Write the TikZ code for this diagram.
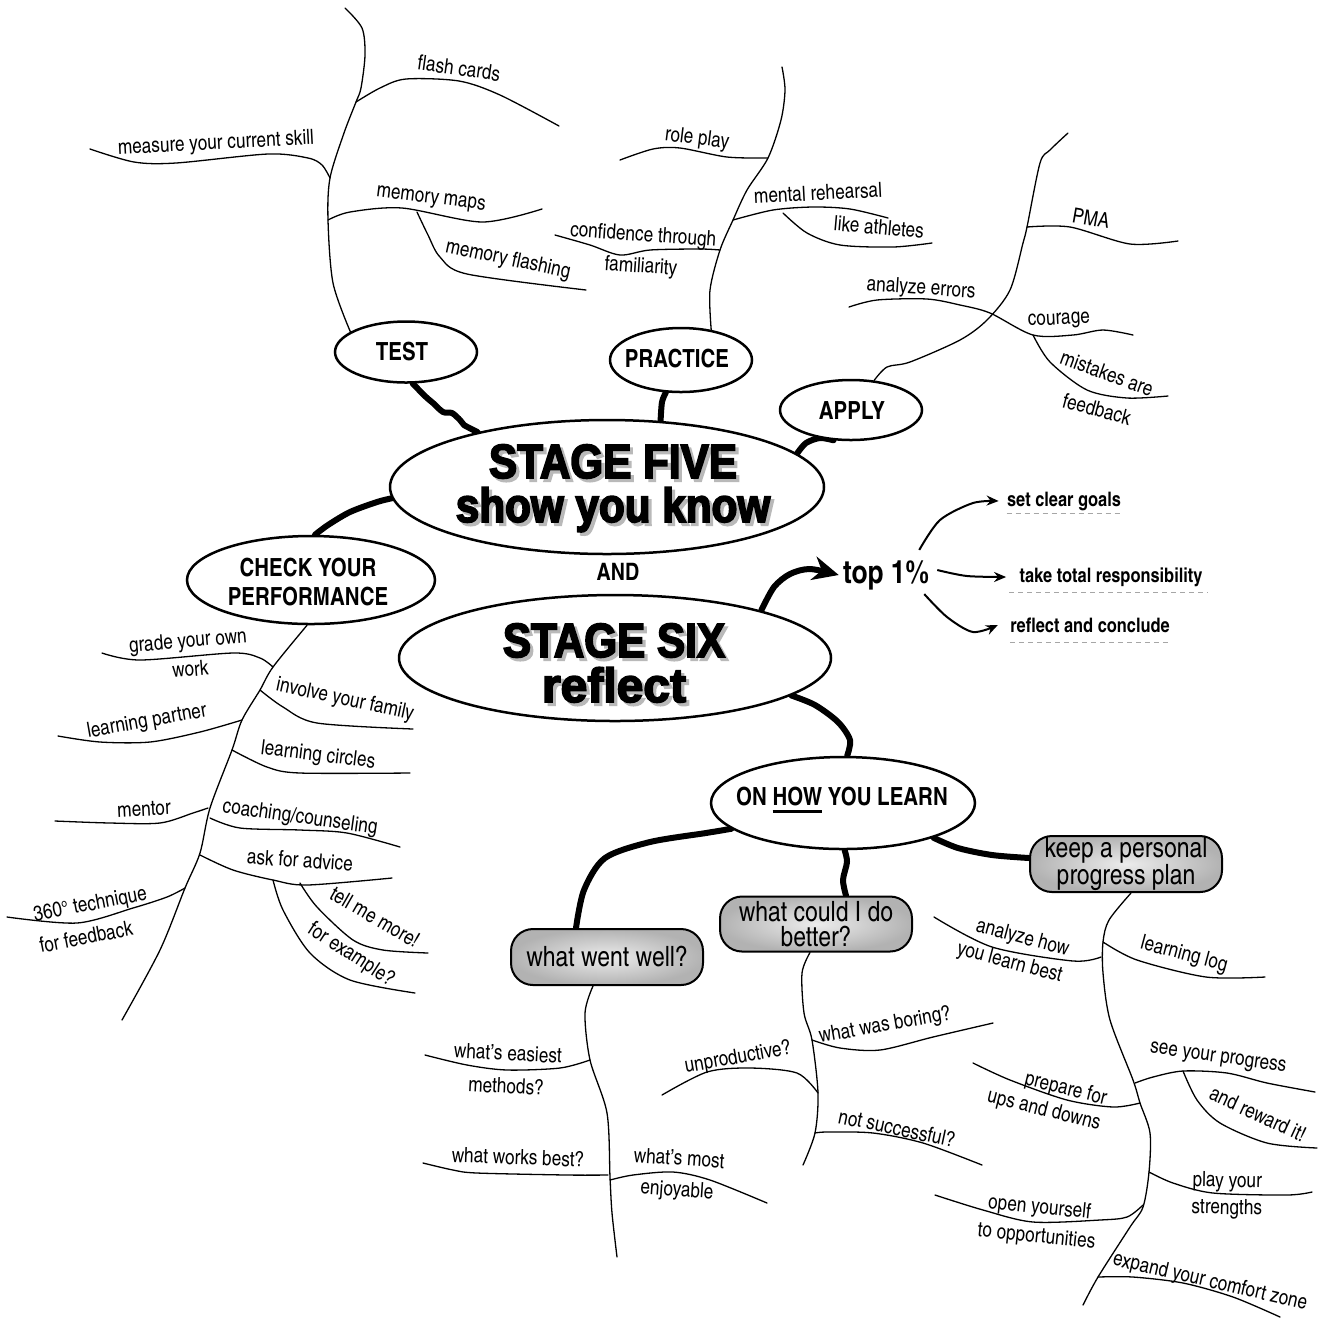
\documentclass[tikz,border=0pt]{standalone}
\usepackage{fontspec}
\setmainfont{texgyreheroscn}[Extension=.otf, UprightFont=*-regular, BoldFont=*-bold, ItalicFont=*-italic, BoldItalicFont=*-bolditalic]
\newfontfamily\heavyfont{Liberation Sans}[BoldFeatures={FakeBold=3.5,FakeStretch=0.88}]
\newfontfamily\heavywide{Liberation Sans}[BoldFeatures={FakeBold=3.5,FakeStretch=1.0}]
\usetikzlibrary{shapes.geometric,arrows.meta,backgrounds}
\newcommand\ulthick[1]{\setbox0\hbox{#1}\rlap{\rule[-3.5pt]{\wd0}{1.5pt}}\box0\relax}
\newcommand\shadowed[1]{\rlap{\hspace{1.6pt}\raisebox{-1.6pt}{\color{gray!55}#1}}#1}
\tikzset{
  br/.style={line width=0.65pt, line cap=round, line join=round},
  conn/.style={line width=3pt, line cap=round, line join=round},
  parr/.style={line width=1pt, -{Stealth[length=6pt,width=5pt]}},
  lb/.style={font=\fontsize{10.5}{12}\selectfont, inner sep=0pt},
  lb2/.style={font=\fontsize{10.5}{#1}\selectfont, inner sep=0pt},
  topic/.style={font=\bfseries\fontsize{12.5}{14.5}\selectfont, inner sep=0pt, align=center},
  oval/.style={ellipse, draw, line width=1.25pt, inner sep=0pt, fill=white},
  gbox/.style={rectangle, draw, line width=1pt, rounded corners=11pt, inner sep=0pt, shading=radial, inner color=gray!15, outer color=gray!60, font=\fontsize{14}{12.5}\selectfont, align=center},
  ttl/.style={font=\heavyfont\bfseries\fontsize{24}{26}\selectfont, inner sep=0pt, anchor=base},
  goalt/.style={font=\bfseries\fontsize{10}{12}\selectfont, inner sep=0pt},
  dline/.style={gray!70, line width=0.5pt, dash pattern=on 2.5pt off 2pt},
}
\begin{document}
\begin{tikzpicture}[x=0.5pt,y=-0.5pt]
\useasboundingbox (0,0) rectangle (1321,1319);
% ---------- main shapes
\node[oval, minimum width=217pt, minimum height=67pt] (s5) at (607,487) {};
\node[oval, minimum width=216pt, minimum height=63pt] (s6) at (615,658) {};
\node[oval, minimum width=71pt, minimum height=30.5pt] (test) at (406,352) {};
\node[oval, minimum width=71pt, minimum height=32pt] (practice) at (681,360) {};
\node[oval, minimum width=71pt, minimum height=30pt] (apply) at (851,410) {};
\node[oval, minimum width=124pt, minimum height=44pt] (check) at (311,580) {};
\node[oval, minimum width=132pt, minimum height=46pt] (onhow) at (843,803) {};
\node[gbox, minimum width=96pt, minimum height=28pt] (wentwell) at (607,957) {what went well?};
\node[gbox, minimum width=96pt, minimum height=27.5pt] (better) at (816,924) {what could I do\\better?};
\node[gbox, minimum width=96pt, minimum height=28pt] (keep) at (1126,864) {keep a personal\\progress plan};
% ---------- titles
\node[ttl] (s5a) at (613,478) {\shadowed{STAGE FIVE}};
\node[ttl] (s5b) at (613,522) {\shadowed{show you know}};
\node[ttl] (s6a) at (614,657) {\shadowed{STAGE SIX}};
\node[ttl, font=\heavywide\bfseries\fontsize{24}{26}\selectfont] (s6b) at (614,702) {\shadowed{reflect}};
\node[topic, font=\bfseries\fontsize{12}{14}\selectfont] (and) at (618,572) {AND};
\node[topic] (testT) at (402,352) {TEST};
\node[topic] (practiceT) at (677,359) {PRACTICE};
\node[topic] (applyT) at (852,411) {APPLY};
\node[topic] (checkT) at (308,582) {CHECK YOUR\\PERFORMANCE};
\node[topic] (onhowT) at (842,800) {ON \ulthick{HOW} YOU LEARN};
% ---------- top 1%
\node[inner sep=2pt, font=\bfseries\fontsize{16}{18}\selectfont] (top1) at (886,575) {top 1\%};
\node[goalt] (goals) at (1064,501) {set clear goals};
\node[goalt] (resp) at (1111,577) {take total responsibility};
\node[goalt] (concl) at (1090,625) {reflect and conclude};
\draw[dline] ([yshift=-3.5pt]goals.base west) -- ([xshift=1pt,yshift=-3.5pt]goals.base east);
\draw[dline] ([xshift=-5pt,yshift=-5pt]resp.base west) -- ([xshift=2.5pt,yshift=-5pt]resp.base east);
\draw[dline] ([yshift=-5pt]concl.base west) -- ([yshift=-5pt]concl.base east);
\draw[parr] plot[smooth] coordinates {([xshift=-7pt,yshift=3pt]top1.north east) (940,520) (973,503) ([xshift=-4pt]goals.west)};
\draw[parr] plot[smooth] coordinates {([xshift=2pt,yshift=2.5pt]top1.east) (967,576) ([xshift=-6.5pt]resp.west)};
\draw[parr] plot[smooth] coordinates {([xshift=-4.5pt]top1.south east) (947,617) (973,632) ([xshift=-6pt]concl.west)};
% ---------- labels: TEST
\node[lb, rotate=-8] (l1) at (459,68) {flash cards};
\node[lb, rotate=3] (l2) at (216,144) {measure your current skill};
\node[lb, rotate=-7] (l3) at (431,200) {memory maps};
\node[lb, rotate=-12] (l4) at (508,260) {memory flashing};
% PRACTICE
\node[lb, rotate=-7] (l5) at (697,139) {role play};
\node[lb, rotate=3] (l6) at (818,193) {mental rehearsal};
\node[lb, rotate=-5] (l7) at (879,227) {like athletes};
\node[lb2=15.7pt, rotate=-4, align=center] (l8) at (642,251.5) {confidence through\\familiarity};
% APPLY
\node[lb, rotate=-10] (l10) at (1091,218) {PMA};
\node[lb, rotate=-4] (l11) at (921,289) {analyze errors};
\node[lb, rotate=3] (l12) at (1059,321) {courage};
\node[lb, rotate=-20] (l13) at (1107,373) {mistakes are};
\node[lb, rotate=-15] (l14) at (1097,409) {feedback};
% CHECK
\node[lb2=14.5pt, rotate=5, align=center] (l15) at (189,654.5) {grade your own\\work};
\node[lb, rotate=-12] (l17) at (345,700) {involve your family};
\node[lb, rotate=10] (l18) at (147,722) {learning partner};
\node[lb, rotate=-7] (l19) at (318,756) {learning circles};
\node[lb, rotate=3] (l20) at (144,809) {mentor};
\node[lb, rotate=-8] (l21) at (300,818) {coaching/counseling};
\node[lb, rotate=-4] (l22) at (300,860) {ask for advice};
\node[lb, rotate=-30] (l23) at (375,917) {tell me more!};
\node[lb, rotate=-33] (l24) at (351,955) {for example?};
\node[lb2=16pt, rotate=11, align=left] (l25) at (93,919) {360° technique\\for feedback};
% WENT WELL
\node[lb2=16.5pt, rotate=-3, align=center] (l27) at (507,1069.5) {what's easiest\\methods?};
\node[lb, rotate=-2] (l29) at (518,1157) {what works best?};
\node[lb2=15.5pt, rotate=-4, align=center] (l30) at (678,1175.5) {what's most\\enjoyable};
% BETTER
\node[lb, rotate=10] (l32) at (885,1026) {what was boring?};
\node[lb, rotate=10] (l33) at (738,1058) {unproductive?};
\node[lb, rotate=-12] (l34) at (897,1128) {not successful?};
% KEEP
\node[lb2=13.5pt, rotate=-15, align=right] (l35) at (1013,950) {analyze how\\you learn best};
\node[lb, rotate=-15] (l37) at (1184,955) {learning log};
\node[lb, rotate=-8] (l38) at (1218,1059) {see your progress};
\node[lb, rotate=-25] (l39) at (1258,1114) {and reward it!};
\node[lb2=13pt, rotate=-14, align=right] (l40) at (1047,1098) {prepare for\\ups and downs};
\node[lb2=13.5pt, rotate=-1, align=center] (l42) at (1227,1195.5) {play your\\strengths};
\node[lb2=14.6pt, rotate=-6, align=center] (l44) at (1038,1222.5) {open yourself\\to opportunities};
\node[lb, rotate=-13] (l46) at (1210,1282) {expand your comfort zone};
% ---------- connectors and branches
\begin{scope}[on background layer]
% thick connectors
\draw[conn] plot[smooth] coordinates {(test.-78) (426,397) (433,403) (443,412) (452,413) (460,420) (464,425) (s5.157)};
\draw[conn] plot[smooth] coordinates {(practice.-115) (662,402) (s5.51)};
\draw[conn] plot[smooth] coordinates {(s5.10.5) (806,443) (820,438) (apply.-120)};
\draw[conn] plot[smooth] coordinates {(s5.-177) (377,502) (350,512) (328,525) (check.85)};
\draw[conn, -{Stealth[length=13pt,width=12pt]}] plot[smooth] coordinates {(s6.18) (774,587) (790,574) (810,569) (top1.west)};
\draw[conn] plot[smooth] coordinates {(s6.-12) (815,705) (838,722) (850,740) (onhow.85)};
\draw[conn] plot[smooth] coordinates {(onhow.-167) (706,833) (650,842) (605,858) (584,890) ([xshift=-15.5pt]wentwell.north)};
\draw[conn] plot[smooth] coordinates {(onhow.-88) (847,862) (843,880) ([xshift=15pt]better.north)};
\draw[conn] plot[smooth] coordinates {(onhow.-21) (958,848) (992,855) ([yshift=3pt]keep.west)};
% TEST branches
\draw[br] plot[smooth] coordinates {(345,8) (362,28) (365,55) (361,88) (356,102) (344,133) (330,178) (328,220) (333,283) (test.160)};
\draw[br] plot[smooth] coordinates {(356,102) (380,88) (406,79) (459,81) (500,95) (559,126)};
\draw[br] plot[smooth] coordinates {(330,178) (322,165) (308,158) (268,154) (176,163) (134,162) (90,149)};
\draw[br] plot[smooth] coordinates {(328,220) (350,212) (402,208) (482,222) (542,209)};
\draw[br] plot[smooth] coordinates {(417,212) (428,235) (440,257) (467,274) (586,290)};
% PRACTICE branches
\draw[br] plot[smooth] coordinates {(practice.45) (710,290) (720,250) (733,220) (747,190) (768,158) (781,120) (785,90) (782,67)};
\draw[br] plot[smooth] coordinates {(768,158) (727,157) (680,148) (653,149) (620,160)};
\draw[br] plot[smooth] coordinates {(733,220) (773,210) (813,207) (850,209) (888,218)};
\draw[br] plot[smooth] coordinates {(783,213) (807,233) (840,245) (893,247) (932,243)};
\draw[br] plot[smooth] coordinates {(720,250) (700,249) (650,250) (620,255) (590,245) (555,235)};
% APPLY branches
\draw[br] plot[smooth] coordinates {(apply.52) (887,367) (910,362) (960,340) (987,320) (1010,290) (1023,243) (1027,227) (1040,163) (1050,150) (1068,133)};
\draw[br] plot[smooth] coordinates {(1027,227) (1070,227) (1130,244) (1178,241)};
\draw[br] plot[smooth] coordinates {(849,307) (877,300) (927,299) (960,305) (990,313) (1033,335) (1073,335) (1103,330) (1133,335)};
\draw[br] plot[smooth] coordinates {(1033,335) (1050,362) (1087,390) (1127,398) (1168,396)};
% CHECK branches
\draw[br] plot[smooth] coordinates {(check.-95) (273,667) (260,690) (242,720) (232,750) (210,808) (200,853) (185,888) (160,950) (122,1020)};
\draw[br] plot[smooth] coordinates {(273,667) (260,658) (233,653) (140,660) (102,653)};
\draw[br] plot[smooth] coordinates {(260,690) (283,707) (317,723) (413,729)};
\draw[br] plot[smooth] coordinates {(242,720) (200,732) (150,742) (100,742) (58,736)};
\draw[br] plot[smooth] coordinates {(232,750) (267,767) (300,773) (410,773)};
\draw[br] plot[smooth] coordinates {(208,808) (193,813) (160,823) (110,823) (55,821)};
\draw[br] plot[smooth] coordinates {(210,818) (240,828) (300,830) (347,833) (400,847)};
\draw[br] plot[smooth] coordinates {(200,855) (233,870) (273,880) (307,885) (392,878)};
\draw[br] plot[smooth] coordinates {(300,883) (317,907) (353,940) (383,950) (428,953)};
\draw[br] plot[smooth] coordinates {(273,880) (283,910) (310,953) (350,980) (415,993)};
\draw[br] plot[smooth] coordinates {(185,888) (167,897) (133,908) (77,923) (7,917)};
% WENT WELL branches
\draw[br] plot[smooth] coordinates {([xshift=-7pt]wentwell.south) (585,1013) (590,1060) (607,1113) (610,1177) (612,1213) (617,1257)};
\draw[br] plot[smooth] coordinates {(590,1060) (560,1068) (507,1070) (467,1065) (425,1055)};
\draw[br] plot[smooth] coordinates {(608,1175) (567,1175) (477,1173) (453,1170) (423,1163)};
\draw[br] plot[smooth] coordinates {(610,1180) (633,1175) (673,1172) (710,1180) (767,1203)};
% BETTER branches
\draw[br] plot[smooth] coordinates {([xshift=-3pt]better.south) (802,973) (804,1013) (812,1040) (818,1093) (815,1133) (803,1165)};
\draw[br] plot[smooth] coordinates {(812,1040) (840,1048) (880,1050) (933,1037) (993,1023)};
\draw[br] plot[smooth] coordinates {(818,1093) (797,1073) (750,1068) (707,1072) (662,1095)};
\draw[br] plot[smooth] coordinates {(815,1133) (827,1132) (873,1133) (923,1143) (982,1165)};
% KEEP branches
\draw[br] plot[smooth] coordinates {([xshift=2.5pt]keep.south) (1109,920) (1103,942) (1103,973) (1110,1020) (1133,1080) (1140,1103) (1150,1133) (1149,1172) (1143,1207) (1130,1227) (1098,1277) (1083,1305)};
\draw[br] plot[smooth] coordinates {(934,917) (992,947) (1073,961) (1101,957)};
\draw[br] plot[smooth] coordinates {(1103,942) (1137,960) (1206,977) (1265,977)};
\draw[br] plot[smooth] coordinates {(1135,1083) (1153,1077) (1183,1071) (1227,1073) (1267,1083) (1315,1092)};
\draw[br] plot[smooth] coordinates {(1183,1071) (1197,1100) (1220,1123) (1267,1143) (1317,1148)};
\draw[br] plot[smooth] coordinates {(1140,1103) (1113,1107) (1067,1100) (1010,1080) (973,1063)};
\draw[br] plot[smooth] coordinates {(1149,1172) (1173,1183) (1213,1193) (1287,1195) (1312,1192)};
\draw[br] plot[smooth] coordinates {(1143,1205) (1127,1217) (1100,1220) (1033,1222) (983,1210) (935,1195)};
\draw[br] plot[smooth] coordinates {(1098,1277) (1133,1277) (1183,1283) (1233,1297) (1280,1317)};
\end{scope}
\end{tikzpicture}
\end{document}
